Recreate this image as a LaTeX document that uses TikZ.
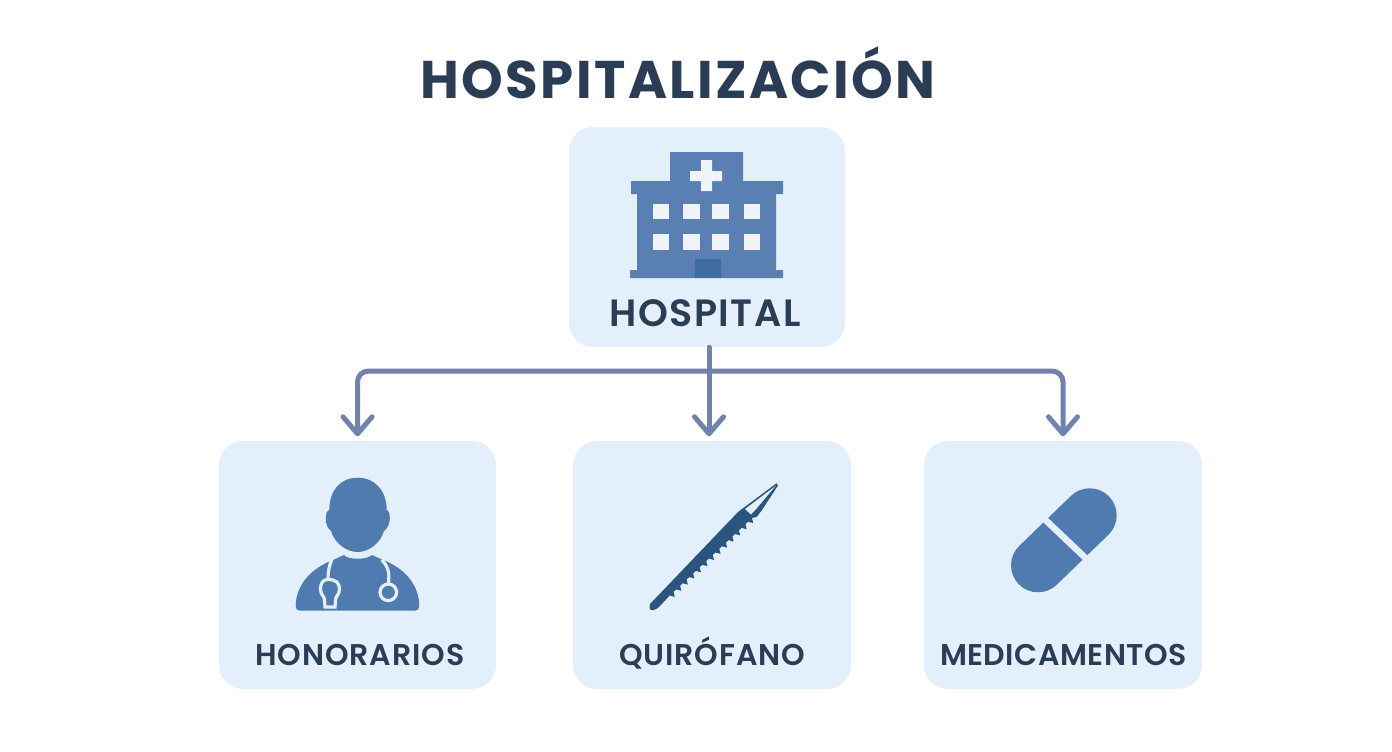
\documentclass[tikz,border=0pt]{standalone}
\usepackage{fontspec}
\setmainfont{Poppins}[BoldFont={Poppins SemiBold}]
\newfontfamily\titlefont{Poppins Bold}[LetterSpace=4.5]
\usetikzlibrary{arrows.meta,calc}
\definecolor{boxbg}{HTML}{E3F0FB}
\definecolor{iconblue}{HTML}{5A80B3}
\definecolor{icondeep}{HTML}{4F7BB0}
\definecolor{doorblue}{HTML}{3F6CA0}
\definecolor{winpale}{HTML}{EEF4FA}
\definecolor{navy}{HTML}{2A5581}
\definecolor{inktext}{HTML}{2A3D55}
\definecolor{linkc}{HTML}{7182AE}
\tikzset{
  card/.style={fill=boxbg,rounded corners=24pt,inner sep=0pt,minimum width=#1},
  link/.style={draw=linkc,line width=5pt,rounded corners=11pt,line cap=round},
  linkhead/.style={link,-{Straight Barb[length=17pt,width=29pt,line cap=round,round]},shorten >=4.5pt},
  lab/.style={text=inktext,font=\fontsize{38pt}{38pt}\bfseries\addfontfeature{LetterSpace=4},inner sep=0pt,anchor=base},
  lab2/.style={text=inktext,font=\fontsize{30pt}{30pt}\bfseries\addfontfeature{LetterSpace=3},inner sep=0pt,anchor=base},
  lab3/.style={text=inktext,font=\fontsize{30pt}{30pt}\bfseries\addfontfeature{LetterSpace=1.7},inner sep=0pt,anchor=base},
  sthe/.style={draw=boxbg,line width=3.2pt},
}
\begin{document}
\begin{tikzpicture}[x=1pt,y=-1pt]
\useasboundingbox (0,0) rectangle (1392,752);
\fill[white] (0,0) rectangle (1392,752);
\node[text=inktext,inner sep=0pt,anchor=base,font=\fontsize{53pt}{53pt}\titlefont] (title) at (678,99) {HOSPITALIZACIÓN};
\node[card=276pt,minimum height=220pt] (hospital) at (707,237) {};
\node[card=277pt,minimum height=248pt] (honor) at (357.5,565) {};
\node[card=278pt,minimum height=248pt] (quiro) at (712,565) {};
\node[card=278pt,minimum height=248pt] (medic) at (1063,565) {};
\node[lab] (t1) at (705,326) {HOSPITAL};
\node[lab2] (t2) at (360,665) {HONORARIOS};
\node[lab2] (t3) at (712,665) {QUIRÓFANO};
\node[lab3] (t4) at (1063.5,665) {MEDICAMENTOS};
% connectors
\coordinate (bar) at (709,371);
\draw[linkhead] (bar) -| (honor.north);
\draw[linkhead] (bar) -| (medic.north);
\draw[linkhead] ($(hospital.south)+(2,0)$) -- ($(quiro.north)+(-3,0)$);
% hospital icon
\fill[iconblue] (670,152) -- (743,152) -- (743,181) -- (783,181) -- (783,194) -- (776,194) -- (776,270) -- (783,270) -- (783,278) -- (630,278) -- (630,270) -- (637,270) -- (637,194) -- (631,194) -- (631,181) -- (670,181) -- cycle;
\fill[winpale] (701,160) -- (712,160) -- (712,171) -- (722,171) -- (722,181) -- (712,181) -- (712,191) -- (701,191) -- (701,181) -- (690,181) -- (690,171) -- (701,171) -- cycle;
\foreach \xa in {653,683.3,712.3,743.7}{
  \fill[winpale] (\xa,204) rectangle ++(16.2,15);
  \fill[winpale] (\xa,234.3) rectangle ++(16.2,15.4);
}
\fill[doorblue] (694.7,259.3) rectangle (720.7,277.7);
% doctor icon
\fill[icondeep] (295.7,606) .. controls (296,584) and (312,568) .. (333,560) -- (344,555) .. controls (348,560) and (367,560) .. (372,555) -- (383,560) .. controls (404,568) and (419,584) .. (419.3,606) .. controls (419.3,609) and (418,610.7) .. (415,610.7) -- (300,610.7) .. controls (297,610.7) and (295.7,609) .. (295.7,606) -- cycle;
\fill[icondeep] (357.7,477.7) .. controls (375,477.7) and (386.7,491) .. (386.7,510) .. controls (391,511) and (391.5,526) .. (384,531) .. controls (380,544) and (368,552) .. (357.7,552) .. controls (347,552) and (335,544) .. (331,531) .. controls (324,526) and (324.5,511) .. (329.3,510) .. controls (329.3,491) and (340,477.7) .. (357.7,477.7) -- cycle;
\draw[sthe] (331.7,560) .. controls (329,566) and (328,572) .. (328,579);
\draw[sthe] (328,579.5) .. controls (336,579.5) and (339.5,583) .. (339.5,589) .. controls (339.5,595) and (335.5,596) .. (335.5,600) -- (335,607) -- (325,607) -- (324.5,600) .. controls (324.5,596) and (320.5,595) .. (320.5,589) .. controls (320.5,583) and (323,579.5) .. (328,579.5) -- cycle;
\draw[sthe] (381.7,560) .. controls (388,566) and (390,573) .. (388.3,584);
\draw[sthe] (388.3,592.3) circle (8.3pt);
% surgical tool icon
\fill[navy] (650,604) -- (738.3,511.7) -- (776.5,483.3) -- (778,485.5) -- (762,510) -- (756.7,517)
  \foreach \i in {0,1,...,12}{ -- ($(752,518)!{\i/13}!(667,598)$) -- ($(752,518)!{(\i+0.3)/13}!(667,598)+(3.2,3.2)$) -- ($(752,518)!{(\i+0.6)/13}!(667,598)$) }
  -- (660,606) .. controls (655,611) and (650,611.5) .. (649.5,608) -- cycle;
\fill[boxbg] (745,509) -- (775.5,486) -- (757,508) -- (751,514.5) -- cycle;
% pill icon
\draw[icondeep,line width=54pt,line cap=round] (1038,565.3) -- (1089.7,515.3);
\draw[boxbg,line width=6.5pt] (1045,519.5) -- (1085.5,558);
\end{tikzpicture}
\end{document}
